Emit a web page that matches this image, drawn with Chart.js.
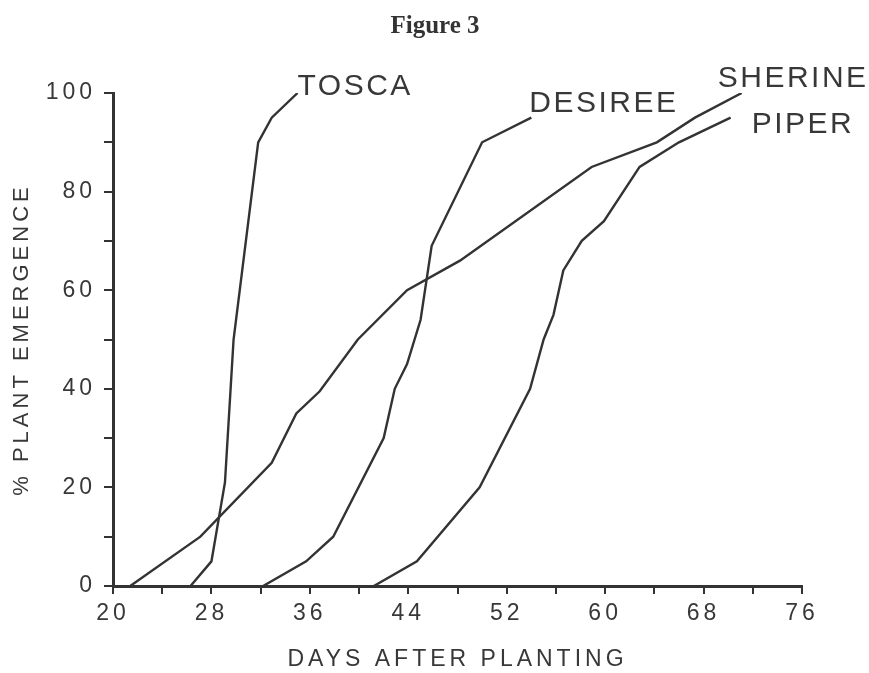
<!DOCTYPE html>
<html>
<head>
<meta charset="utf-8">
<script src="https://cdn.jsdelivr.net/npm/chart.js@4"></script>
<style>
  body { margin: 0; background: #fff; }
  #caixa { width: 869px; height: 673px; }
</style>
</head>
<body>
<div id="caixa"><canvas id="grafico"></canvas></div>
<script>
// Dados (dias após o plantio x % de emergência)
const toscaDias = [26.3, 28, 29.1, 29.8, 31.8, 32.9, 35];
const toscaEmerg = [0, 5, 21, 50, 90, 95, 100];

const desireeDias = [32.2, 35.7, 37.9, 42.0, 42.9, 43.9, 45.0, 45.9, 50, 54];
const desireeEmerg = [0, 5, 10, 30, 40, 45, 54, 69, 90, 95];

const sherineDias = [21.4, 27.1, 32.9, 34.9, 36.8, 39.9, 43.9, 48.2, 58.9, 64.2, 67.3, 71.1];
const sherineEmerg = [0, 10, 25, 35, 39.5, 50, 60, 66, 85, 90, 95, 100];

const piperDias = [41.2, 44.7, 49.8, 53.9, 55.0, 55.8, 56.6, 58.1, 59.9, 62.8, 66.0, 70.2];
const piperEmerg = [0, 5, 20, 40, 50, 55, 64, 70, 74, 85, 90, 95];

const variedades = ["TOSCA", "DESIREE", "SHERINE", "PIPER"];

const xTicks = [20, 28, 36, 44, 52, 60, 68, 76];
const yTicks = [0, 20, 40, 60, 80, 100];

// junta x e y em pontos
function pontos(dias, emerg) {
  return dias.map((d, i) => ({ x: d, y: emerg[i] }));
}

const corLinha = "#333";
const corTexto = "#383838";

// espaçamento largo das letras, como no original
const espacamento = {
  id: "espacamento",
  beforeUpdate(chart) { chart.ctx.letterSpacing = "4px"; },
  beforeLayout(chart) { chart.ctx.letterSpacing = "4px"; },
  beforeDraw(chart) { chart.ctx.letterSpacing = "4px"; }
};

// nomes das curvas + "Figure 3"
const rotulos = {
  id: "rotulos",
  afterDatasetsDraw(chart, args, opts) {
    const ctx = chart.ctx;
    const xs = chart.scales.x;
    const ys = chart.scales.y;

    ctx.save();
    ctx.fillStyle = corTexto;
    ctx.font = "30px 'Liberation Sans', Arial, sans-serif";
    ctx.letterSpacing = "2.5px";
    ctx.textAlign = "left";
    ctx.textBaseline = "alphabetic";
    chart.data.datasets.forEach((ds, i) => {
      const ultimo = ds.data[ds.data.length - 1];
      const desloc = opts.deslocamentos[i];
      const px = xs.getPixelForValue(ultimo.x) + desloc[0];
      const py = ys.getPixelForValue(ultimo.y) + desloc[1];
      ctx.fillText(ds.label, px, py);
    });

    // titulo da figura
    ctx.letterSpacing = "0px";
    ctx.fillStyle = "#333";
    ctx.font = "bold 25px 'Liberation Serif', 'Times New Roman', serif";
    ctx.textAlign = "center";
    ctx.fillText("Figure 3", 435, 33);
    ctx.restore();
  }
};

document.addEventListener("DOMContentLoaded", () => {
  const ctx = document.getElementById("grafico").getContext("2d");

  const series = [
    pontos(toscaDias, toscaEmerg),
    pontos(desireeDias, desireeEmerg),
    pontos(sherineDias, sherineEmerg),
    pontos(piperDias, piperEmerg)
  ];

  new Chart(ctx, {
    type: "line",
    data: {
      datasets: series.map((s, i) => ({
        label: variedades[i],
        data: s,
        borderColor: corLinha,
        borderWidth: 2.4,
        pointRadius: 0,
        fill: false,
        tension: 0
      }))
    },
    options: {
      responsive: true,
      maintainAspectRatio: false,
      animation: false,
      layout: { padding: { top: 93, right: 67, bottom: 0, left: 0 } },
      plugins: {
        legend: { display: false },
        tooltip: { enabled: false },
        rotulos: {
          deslocamentos: [[0, 2], [-2, -6], [-24, -6], [21, 15]]
        }
      },
      scales: {
        x: {
          type: "linear",
          min: 20,
          max: 76,
          afterFit: (scale) => { scale.height = 87; },
          border: { display: true, color: corLinha, width: 3 },
          grid: { drawOnChartArea: false, drawTicks: true, tickLength: 8, color: corLinha, lineWidth: 2 },
          ticks: {
            stepSize: 4,
            padding: 6,
            color: corTexto,
            font: { family: "'Liberation Sans', Arial, sans-serif", size: 23 },
            callback: (v) => xTicks.includes(v) ? v : ""
          },
          title: {
            display: true,
            text: "DAYS AFTER PLANTING",
            color: corTexto,
            padding: { top: 0, bottom: 0 },
            font: { family: "'Liberation Sans', Arial, sans-serif", size: 23 }
          }
        },
        y: {
          min: 0,
          max: 100,
          afterFit: (scale) => { scale.width = 113; },
          border: { display: true, color: corLinha, width: 3 },
          grid: { drawOnChartArea: false, drawTicks: true, tickLength: 9, color: corLinha, lineWidth: 2 },
          ticks: {
            stepSize: 10,
            padding: 8,
            color: corTexto,
            font: { family: "'Liberation Sans', Arial, sans-serif", size: 23 },
            callback: (v) => yTicks.includes(v) ? v : ""
          },
          title: {
            display: true,
            text: "% PLANT EMERGENCE",
            color: corTexto,
            padding: { top: 9, bottom: 0 },
            font: { family: "'Liberation Sans', Arial, sans-serif", size: 22 }
          }
        }
      }
    },
    plugins: [espacamento, rotulos]
  });
});
</script>
</body>
</html>
